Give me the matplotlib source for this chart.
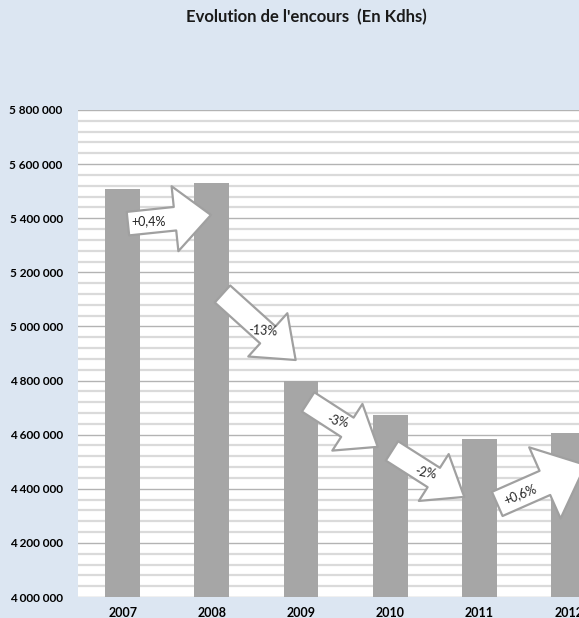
import numpy as np
import matplotlib
matplotlib.use('Agg')
import matplotlib.pyplot as plt
from matplotlib.patches import FancyArrowPatch
from matplotlib.ticker import MultipleLocator, FuncFormatter

plt.rcParams['font.family'] = ['Lato', 'DejaVu Sans']

years = ['2007', '2008', '2009', '2010', '2011', '2012']
encours = [5508000, 5530000, 4799000, 4673000, 4584000, 4606000]
variations = ['+0,4%', '-13%', '-3%', '-2%', '+0,6%']

# arrow placement relative to bars: (dx tail, dy tail, dx tip, dy tip)
arrow_offsets = [(0.06, -128000, -0.01, -118000),
                 (0.12, -410000, -0.06, 77000),
                 (0.08, -78000, -0.14, -118000),
                 (0.02, -133000, -0.17, -214000),
                 (0.20, -240000, 0.19, -118000)]
arrow_sizes = [(17, 47, 26), (16.5, 42, 27), (16.5, 40, 26), (16.5, 40, 26), (19, 56, 32)]
text_frac = [0.25, 0.55, 0.43, 0.47, 0.26]
text_rot = [0, -3, -12, -10, 22]

fig = plt.figure(figsize=(5.79, 6.18), dpi=100)
fig.patch.set_facecolor('#dce6f2')
ax = fig.add_axes([78 / 579, 1 - 597 / 618, (612.6 - 77.4) / 579, (597 - 110) / 618])
ax.set_facecolor('white')

x = np.arange(len(years))
ax.bar(x, encours, width=0.39, color='#a6a6a6', zorder=3)

ax.set_xlim(-0.5, 5.5)
ax.set_ylim(4000000, 5800000)
ax.yaxis.set_major_locator(MultipleLocator(200000))
ax.yaxis.set_minor_locator(MultipleLocator(40000))
ax.yaxis.set_major_formatter(FuncFormatter(lambda v, p: f"{v:,.0f}".replace(',', ' ')))
ax.grid(which='minor', axis='y', color='#dadada', lw=1.6, zorder=1)
ax.grid(which='major', axis='y', color='#b3b3b3', lw=1.0, zorder=2)
ax.set_xticks(x)
ax.set_xticklabels(years, fontweight='bold', fontsize=9)
for lab in ax.get_yticklabels():
    lab.set_fontweight('bold')
    lab.set_fontsize(8.5)
ax.tick_params(axis='both', which='both', length=0)
ax.tick_params(axis='y', pad=11)
ax.tick_params(axis='x', pad=7)
for s in ax.spines.values():
    s.set_visible(False)

fig.text(0.529, 0.972, "Evolution de l'encours  (En Kdhs)", ha='center', va='center',
         fontsize=12, fontweight='bold', color='#1a1a1a')

for i, lab in enumerate(variations):
    dx0, dy0, dx1, dy1 = arrow_offsets[i]
    tail = (x[i] + dx0, encours[i] + dy0)
    tip = (x[i + 1] + dx1, encours[i + 1] + dy1)
    tw, hw, hl = arrow_sizes[i]
    arr = FancyArrowPatch(tail, tip, transform=ax.transData,
                          arrowstyle=f'simple,head_length={hl},head_width={hw},tail_width={tw}',
                          mutation_scale=1, shrinkA=0, shrinkB=0,
                          fc='white', ec='#a0a0a0', lw=1.6, zorder=5, clip_on=False)
    ax.add_patch(arr)
    f = text_frac[i]
    tx = tail[0] + f * (tip[0] - tail[0])
    ty = tail[1] + f * (tip[1] - tail[1])
    ax.text(tx, ty, lab, ha='center', va='center', fontsize=9, rotation=text_rot[i],
            color='#262626', zorder=6)

plt.savefig('out.png', dpi=100, facecolor=fig.get_facecolor())
